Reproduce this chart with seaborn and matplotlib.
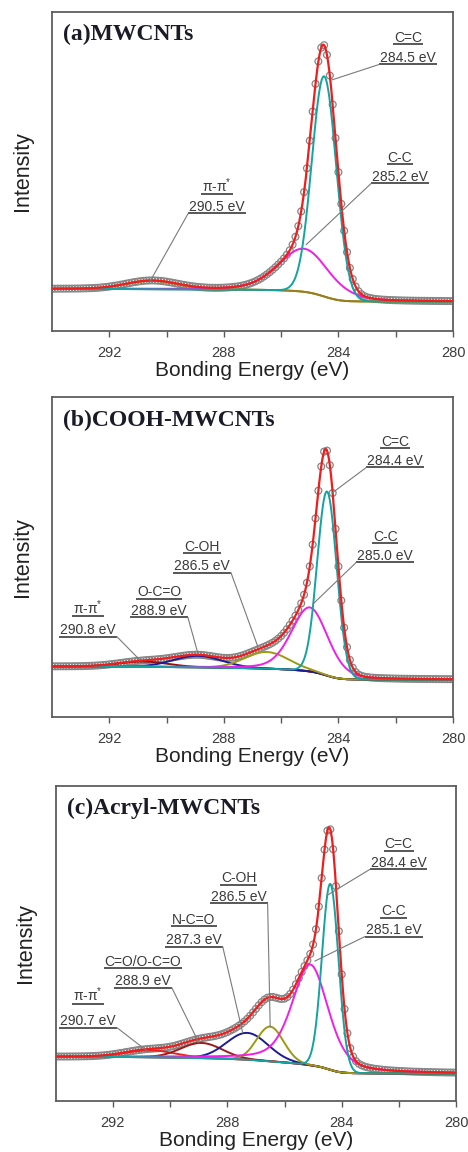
import numpy as np
import matplotlib
matplotlib.use("Agg")
import matplotlib.pyplot as plt
import seaborn as sns

# Binding-energy window (eV), drawn from high to low
E_HIGH, E_LOW = 294.0, 280.0
MAJOR_TICKS = [292, 288, 284, 280]
MINOR_TICKS = [290, 286, 282]

# ---- (a) MWCNTs : fitted C1s components ----
a_title   = "(a)MWCNTs"
a_names   = ["π-π$^{*}$", "C-C", "C=C"]
a_centers = [290.5, 285.2, 284.5]
a_heights = [0.026, 0.135, 0.690]
a_fwhm    = [2.1, 2.1, 1.0]
a_eta     = [0.0, 0.3, 0.0]
a_bg      = [0.092, 0.132]          # background at 280 eV, at 294 eV

# ---- (b) COOH-MWCNTs ----
b_title   = "(b)COOH-MWCNTs"
b_names   = ["π-π$^{*}$", "O-C=O", "C-OH", "C-C", "C=C"]
b_centers = [290.8, 288.9, 286.5, 285.0, 284.4]
b_heights = [0.016, 0.036, 0.052, 0.200, 0.575]
b_fwhm    = [2.0, 2.0, 1.8, 1.5, 0.80]
b_eta     = [0.0, 0.0, 0.0, 0.25, 0.0]
b_bg      = [0.117, 0.158]

# ---- (c) Acryl-MWCNTs ----
c_title   = "(c)Acryl-MWCNTs"
c_names   = ["π-π$^{*}$", "C=O/O-C=O", "N-C=O", "C-OH", "C-C", "C=C"]
c_centers = [290.7, 288.9, 287.3, 286.5, 285.1, 284.4]
c_heights = [0.022, 0.048, 0.085, 0.110, 0.320, 0.590]
c_fwhm    = [2.0, 1.7, 1.7, 1.1, 1.5, 0.68]
c_eta     = [0.0, 0.0, 0.0, 0.0, 0.45, 0.0]
c_bg      = [0.087, 0.140]

# line colours for each component, envelope and background
a_colors = ["#9a7d1c", "#f01ee6", "#12a3a3"]
b_colors = ["#8a1414", "#1c1c96", "#9c9a12", "#f01ee6", "#12a3a3"]
c_colors = ["#e82222", "#a01818", "#1c1c96", "#9c9a12", "#f01ee6", "#12a3a3"]
a_bg_color, b_bg_color, c_bg_color = "#8f8a1a", "#7a1010", "#e82222"
ENVELOPE = "#f21c1c"

# label placement: (x centre eV, y of name, y of energy, leader side, tip x, tip y)
a_labels = [
    (288.24, 0.436, 0.376, "left", 290.61, 0.150),
    (281.85, 0.530, 0.470, "left", 285.13, 0.270),
    (281.57, 0.906, 0.843, "left", 284.22, 0.787),
]
b_labels = [
    (292.74, 0.322, 0.259, "right", 290.93, 0.178),
    (290.26, 0.378, 0.319, "right", 288.90, 0.197),
    (288.76, 0.519, 0.459, "right", 286.81, 0.219),
    (282.37, 0.550, 0.491, "left", 284.89, 0.353),
    (282.02, 0.847, 0.7875, "left", 284.22, 0.700),
]
c_labels = [
    (292.87, 0.317, 0.241, "right", 290.81, 0.159),
    (290.95, 0.429, 0.368, "right", 288.99, 0.184),
    (289.17, 0.562, 0.498, "right", 287.46, 0.216),
    (287.60, 0.695, 0.635, "right", 286.50, 0.235),
    (282.18, 0.590, 0.530, "left", 284.94, 0.444),
    (282.01, 0.803, 0.743, "left", 284.49, 0.654),
]


def peak(E, c, h, w, eta):
    x = (E - c) / w
    g = np.exp(-4 * np.log(2) * x ** 2)
    l = 1.0 / (1.0 + 4 * x ** 2)
    return h * ((1 - eta) * g + eta * l)


def shirley(E, total, b_low, b_high):
    cum = np.cumsum(total)
    cum = cum / cum[-1]
    return b_low + (b_high - b_low) * cum


sns.set_theme(style="white")
plt.rcParams["font.family"] = ["Liberation Sans", "DejaVu Sans"]
plt.rcParams["mathtext.default"] = "regular"

fig = plt.figure(figsize=(4.68, 11.52), dpi=100)
axes_rect = [
    [0.111, 0.7127, 0.857, 0.2770],
    [0.111, 0.3776, 0.857, 0.2778],
    [0.119, 0.0443, 0.8556, 0.2734],
]

panels = [
    (a_title, a_names, a_centers, a_heights, a_fwhm, a_eta, a_bg, a_colors, a_bg_color, a_labels),
    (b_title, b_names, b_centers, b_heights, b_fwhm, b_eta, b_bg, b_colors, b_bg_color, b_labels),
    (c_title, c_names, c_centers, c_heights, c_fwhm, c_eta, c_bg, c_colors, c_bg_color, c_labels),
]

E = np.round(np.arange(E_LOW, E_HIGH + 0.0001, 0.01), 2)
label_jobs = []

for rect, (title, names, centers, heights, fwhm, eta, bgv, colors, bgc, labels) in zip(axes_rect, panels):
    ax = fig.add_axes(rect)
    comps = [peak(E, c, h, w, e) for c, h, w, e in zip(centers, heights, fwhm, eta)]
    total = np.sum(comps, axis=0)
    bg = shirley(E, total, bgv[0], bgv[1])
    envelope = bg + total

    # measured points every 0.1 eV
    E_pts = E[::10]
    I_pts = envelope[::10]
    sns.scatterplot(x=E_pts, y=I_pts, ax=ax, marker="o", s=24,
                    fc="none", ec="#858585", linewidth=0.9, zorder=2)

    sns.lineplot(x=E, y=bg, ax=ax, color=bgc, linewidth=1.4,
                 estimator=None, sort=False, zorder=3)
    for comp, col in zip(comps, colors):
        sns.lineplot(x=E, y=bg + comp, ax=ax, color=col, linewidth=1.4,
                     estimator=None, sort=False, zorder=4)
    sns.lineplot(x=E, y=envelope, ax=ax, color=ENVELOPE, linewidth=1.6,
                 estimator=None, sort=False, zorder=5)

    ax.set_xlim(E_HIGH, E_LOW)
    ax.set_ylim(0, 1)
    ax.set_yticks([])
    ax.set_xticks(MAJOR_TICKS)
    ax.set_xticks(MINOR_TICKS, minor=True)
    ax.tick_params(axis="x", which="both", direction="out", bottom=True,
                   color="#5a5a5a", width=1.0, labelsize=10.5,
                   labelcolor="#3c3c3c", pad=6)
    ax.tick_params(axis="x", which="major", length=4.5)
    ax.tick_params(axis="x", which="minor", length=4.0)
    for sp in ax.spines.values():
        sp.set_color("#5e5e5e")
        sp.set_linewidth(1.3)
    ax.set_xlabel("Bonding Energy (eV)", fontsize=15, color="#222222", labelpad=1)
    ax.set_ylabel("Intensity", fontsize=15.5, color="#222222", labelpad=14)

    ax.text(0.027, 0.928, title, transform=ax.transAxes, ha="left", va="center",
            fontsize=17, fontweight="bold", family=["Liberation Serif", "DejaVu Serif"],
            color="#1b1b28")

    for name, c, lab in zip(names, centers, labels):
        xc, y1, y2, side, tx, ty = lab
        t1 = ax.text(xc, y1, name, ha="center", va="baseline", fontsize=10,
                     color="#3a3a3a", zorder=6)
        t2 = ax.text(xc, y2, f"{c:.1f} eV", ha="center", va="baseline", fontsize=10,
                     color="#3a3a3a", zorder=6)
        label_jobs.append((ax, t1, t2, side, tx, ty))

# underline each label and connect it to its peak
fig.canvas.draw()
renderer = fig.canvas.get_renderer()
for ax, t1, t2, side, tx, ty in label_jobs:
    inv = ax.transData.inverted()
    ends = []
    for t in (t1, t2):
        bb = t.get_window_extent(renderer)
        (x0, y0), (x1, _) = inv.transform([(bb.x0 - 1, bb.y0 + 0.5), (bb.x1 + 1, bb.y0 + 0.5)])
        ax.plot([x0, x1], [y0, y0], color="#4a4a4a", linewidth=1.3, zorder=6,
                solid_capstyle="butt")
        ends.append((x0, x1, y0))
    x0, x1, yu = ends[1]
    sx = x0 if side == "left" else x1
    ax.plot([sx, tx], [yu, ty], color="#7a7a7a", linewidth=0.8, zorder=6)

fig.savefig("out.png", dpi=100)
